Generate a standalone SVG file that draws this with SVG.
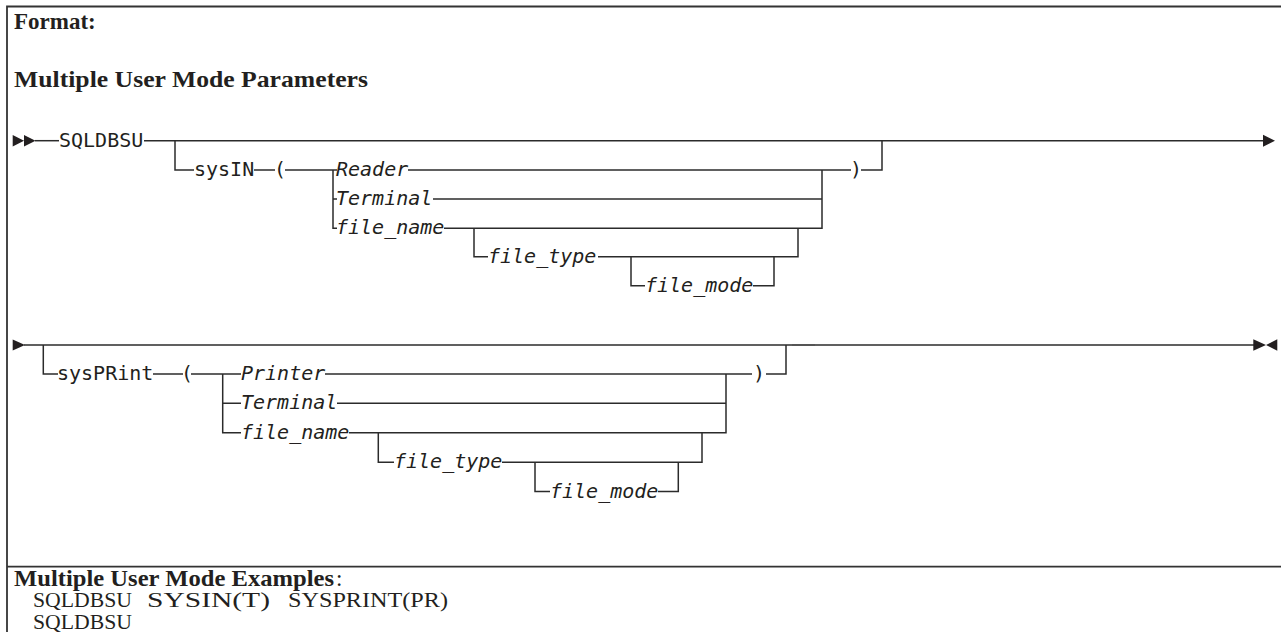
<svg xmlns="http://www.w3.org/2000/svg" width="1281" height="632" viewBox="0 0 1281 632">
<style>
.h{font-family:"Liberation Serif",serif;font-weight:bold;font-size:23px;fill:#231f20}
.hr{font-family:"Liberation Serif",serif;font-size:23px;fill:#231f20}
.ex{font-family:"Liberation Serif",serif;font-size:20px;fill:#231f20}
.m{font-family:"DejaVu Sans Mono","Liberation Mono",monospace;font-size:20px;fill:#231f20}
.i{font-family:"DejaVu Sans Mono","Liberation Mono",monospace;font-size:20px;font-style:italic;fill:#231f20}
.ln{fill:none;stroke:#2b2b2b;stroke-width:1.5}
.ar{fill:#231f20}
.bd{fill:none;stroke:#333;stroke-width:1.8}
</style>
<rect width="1281" height="632" fill="#fff"/>
<g id="frame">
<path class="bd" d="M1281,6.5 H7 V632"/>
<path class="bd" d="M7,566.7 H1281"/>
</g>
<g id="headings">
<text class="h" x="14" y="29.3">Format<tspan class="hr">:</tspan></text>
<text class="h" x="14" y="86.7" textLength="354" lengthAdjust="spacingAndGlyphs">Multiple User Mode Parameters</text>
<text class="h" x="14" y="586" textLength="320" lengthAdjust="spacingAndGlyphs">Multiple User Mode Examples</text>
<text class="hr" x="336" y="586">:</text>
</g>
<g id="examples">
<text class="ex" x="33" y="607" textLength="99" lengthAdjust="spacingAndGlyphs">SQLDBSU</text>
<text class="ex" x="147" y="607" textLength="123" lengthAdjust="spacingAndGlyphs">SYSIN(T)</text>
<text class="ex" x="288" y="607" textLength="160" lengthAdjust="spacingAndGlyphs">SYSPRINT(PR)</text>
<text class="ex" x="33" y="628.5" textLength="99" lengthAdjust="spacingAndGlyphs">SQLDBSU</text>
</g>
<g id="connectors">
<path class="ar" d="M12.7,135 L24,140.7 L12.7,146.4 Z M24,135 L35.5,140.7 L24,146.4 Z"/>
<path class="ln" d="M35,140.7 H59"/>
<path class="ln" d="M144,140.7 H1264"/>
<path class="ar" d="M1263,134.7 L1275,140.7 L1263,146.7 Z"/>
<path class="ln" d="M175,140.7 V170 H194"/>
<path class="ln" d="M254,170 H275"/>
<path class="ln" d="M285,170 H337"/>
<path class="ln" d="M333,170 V228.3 H337 M333,199 H337"/>
<path class="ln" d="M408,170 H851"/>
<path class="ln" d="M433,199 H822"/>
<path class="ln" d="M444,228.3 H822 V170"/>
<path class="ln" d="M861,170 H882 V140.7"/>
<path class="ln" d="M474,228.3 V256.7 H488"/>
<path class="ln" d="M598,256.7 H798 V228.3"/>
<path class="ln" d="M631,256.7 V285.7 H645"/>
<path class="ln" d="M753,285.7 H774 V256.7"/>
<path class="ar" d="M12.7,339.5 L25,345 L12.7,350.5 Z"/>
<path class="ln" d="M24,345 H1254"/>
<path d="M792,345 H815" style="stroke:#555;stroke-width:2;fill:none"/>
<path class="ar" d="M1253.3,339.3 L1266,345 L1253.3,350.7 Z M1277.3,339.3 L1266,345 L1277.3,350.7 Z"/>
<path class="ln" d="M43.3,345 V374 H58"/>
<path class="ln" d="M153,374 H183"/>
<path class="ln" d="M191,374 H241"/>
<path class="ln" d="M222.7,374 V432.7 H241 M222.7,403.3 H241"/>
<path class="ln" d="M325,374 H752"/>
<path class="ln" d="M337,403.3 H726"/>
<path class="ln" d="M349,432.7 H726 V374"/>
<path class="ln" d="M766,374 H786 V345"/>
<path class="ln" d="M378.3,432.7 V462.3 H394"/>
<path class="ln" d="M502,462.3 H702 V432.7"/>
<path class="ln" d="M535,462.3 V491.5 H550"/>
<path class="ln" d="M658,491.5 H678.3 V462.3"/>
</g>
<g id="n-sqldbsu"><text class="m" x="59" y="146.7">SQLDBSU</text></g>
<g id="n-sysin"><text class="m" x="194" y="176">sysIN</text></g>
<g id="n-lparen1"><text class="m" x="274" y="176">(</text></g>
<g id="n-reader"><text class="i" x="336" y="176">Reader</text></g>
<g id="n-terminal1"><text class="i" x="336" y="205">Terminal</text></g>
<g id="n-filename1"><text class="i" x="336" y="234.3">file_name</text></g>
<g id="n-filetype1"><text class="i" x="488" y="262.7">file_type</text></g>
<g id="n-filemode1"><text class="i" x="645" y="291.7">file_mode</text></g>
<g id="n-rparen1"><text class="m" x="850" y="176">)</text></g>
<g id="n-sysprint"><text class="m" x="57" y="380">sysPRint</text></g>
<g id="n-lparen2"><text class="m" x="181" y="380">(</text></g>
<g id="n-printer"><text class="i" x="241" y="380">Printer</text></g>
<g id="n-terminal2"><text class="i" x="241" y="409.3">Terminal</text></g>
<g id="n-filename2"><text class="i" x="241" y="438.7">file_name</text></g>
<g id="n-filetype2"><text class="i" x="394" y="468.3">file_type</text></g>
<g id="n-filemode2"><text class="i" x="550" y="497.5">file_mode</text></g>
<g id="n-rparen2"><text class="m" x="753" y="380">)</text></g>
</svg>
